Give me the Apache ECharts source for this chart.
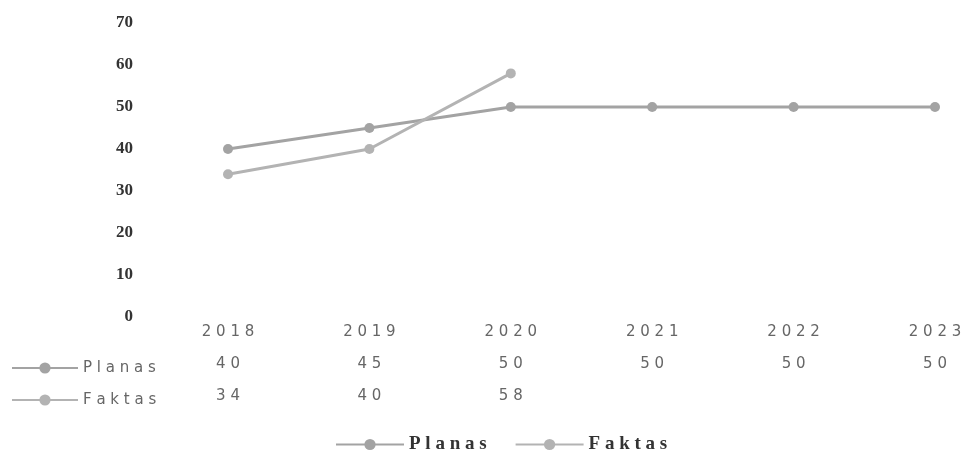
<!DOCTYPE html>
<html>
<head>
<meta charset="utf-8">
<script src="https://cdn.jsdelivr.net/npm/echarts@6/dist/echarts.min.js"></script>
<style>
  html, body { margin: 0; padding: 0; background: #fff; }
  #chart { width: 967px; height: 452px; }
</style>
</head>
<body>
<div id="chart"></div>
<script>
  // duomenys
  var years = ['2018', '2019', '2020', '2021', '2022', '2023'];
  var planas = [40, 45, 50, 50, 50, 50];
  var faktas = [34, 40, 58, null, null, null];
  var yTicks = { min: 0, max: 70, interval: 10 };

  // plačios raidės kaip originale
  function spaced(s) {
    return String(s).split('').join(' ');
  }

  var sans = 'DejaVu Sans';
  var serif = 'Liberation Serif';

  var myChart = echarts.init(document.getElementById('chart'));
  myChart.setOption({
    animation: false,
    grid: { left: 228, right: 32, top: 23, bottom: 135 },
    legend: [
      {
        // apačioje
        left: 330,
        top: 430,
        itemWidth: 68,
        itemHeight: 14,
        itemGap: 28,
        data: ['Planas', 'Faktas'],
        formatter: spaced,
        textStyle: { fontFamily: serif, fontSize: 19, fontWeight: 'bold', color: '#333' }
      },
      {
        // lentelės eilučių pavadinimai
        left: 6,
        top: 355,
        orient: 'vertical',
        itemWidth: 66,
        itemHeight: 14,
        itemGap: 16,
        data: ['Planas', 'Faktas'],
        formatter: spaced,
        textStyle: { fontFamily: sans, fontSize: 15, color: '#666', lineHeight: 16 }
      }
    ],
    xAxis: [
      {
        type: 'category',
        boundaryGap: false,
        data: years,
        axisLine: { show: false },
        axisTick: { show: false },
        axisLabel: { margin: 8, formatter: spaced, fontFamily: sans, fontSize: 15, color: '#666' }
      },
      {
        type: 'category',
        boundaryGap: false,
        data: years,
        position: 'bottom',
        offset: 32,
        axisLine: { show: false },
        axisTick: { show: false },
        axisLabel: {
          margin: 8, fontFamily: sans, fontSize: 15, color: '#666',
          formatter: function (v, i) { return planas[i] == null ? '' : spaced(planas[i]); }
        }
      },
      {
        type: 'category',
        boundaryGap: false,
        data: years,
        position: 'bottom',
        offset: 64,
        axisLine: { show: false },
        axisTick: { show: false },
        axisLabel: {
          margin: 8, fontFamily: sans, fontSize: 15, color: '#666',
          formatter: function (v, i) { return faktas[i] == null ? '' : spaced(faktas[i]); }
        }
      }
    ],
    yAxis: {
      type: 'value',
      min: yTicks.min,
      max: yTicks.max,
      interval: yTicks.interval,
      axisLine: { show: false },
      axisTick: { show: false },
      splitLine: { show: false },
      axisLabel: { margin: 95, fontFamily: serif, fontSize: 17, fontWeight: 'bold', color: '#333' }
    },
    series: [
      {
        name: 'Planas',
        type: 'line',
        data: planas,
        symbol: 'circle',
        symbolSize: 10,
        itemStyle: { color: '#a3a3a3' },
        lineStyle: { width: 3, color: '#a3a3a3' }
      },
      {
        name: 'Faktas',
        type: 'line',
        data: faktas,
        symbol: 'circle',
        symbolSize: 10,
        itemStyle: { color: '#b3b3b3' },
        lineStyle: { width: 3, color: '#b3b3b3' }
      }
    ]
  });
</script>
</body>
</html>
